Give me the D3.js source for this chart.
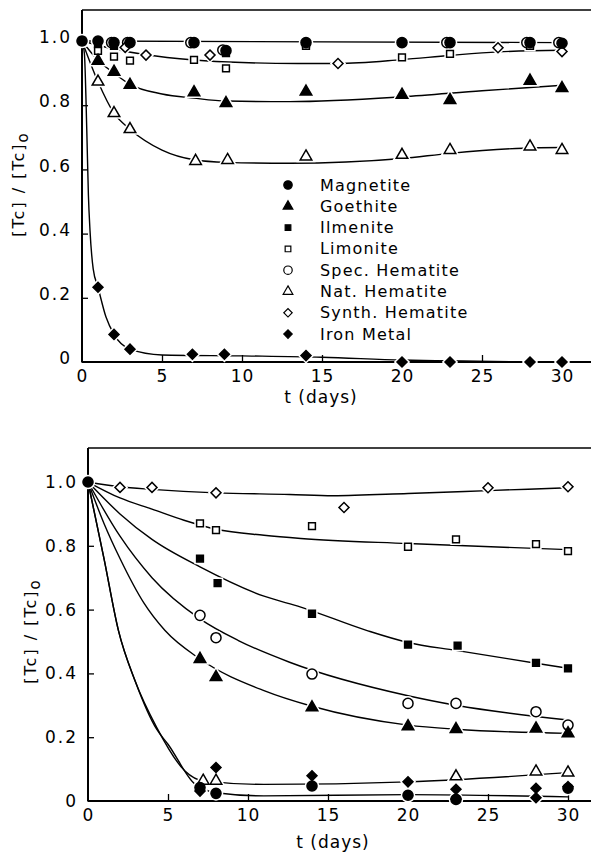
<!DOCTYPE html>
<html>
<head>
<meta charset="utf-8">
<script src="https://cdn.jsdelivr.net/npm/d3@7"></script>
<style>
  html, body { margin: 0; padding: 0; background: #fff; }
  svg { display: block; }
</style>
</head>
<body>
<svg id="chart" width="591" height="855"></svg>
<script>
// ---------- Data: [time (days), [Tc]/[Tc]o] ----------
// Upper panel measurements
const topMagnetite   = [[0,1.0],[1,1.0],[2,0.995],[3,0.995],[7,0.995],[9,0.97],[14,0.995],[20,0.995],[23,0.995],[28,0.995],[30,0.993]];
const topIlmenite    = [[0,1.0],[1,0.99],[2,0.985],[9,0.962],[14,0.99],[28,0.99]];
const topSpecHematite= [[1.85,0.995],[2.85,0.995],[6.8,0.995],[8.8,0.972],[22.8,0.995],[27.8,0.995],[29.8,0.995]];
const topLimonite    = [[1,0.969],[2,0.951],[3,0.939],[7,0.941],[9,0.915],[14,0.985],[20,0.949],[23,0.96],[28,0.985]];
const topSynthHematite = [[2.7,0.98],[4,0.956],[8,0.956],[16,0.93],[26,0.979],[30,0.967]];
const topGoethite    = [[1,0.938],[2,0.904],[3,0.863],[7,0.84],[9,0.806],[14,0.842],[20,0.832],[23,0.816],[28,0.876],[30,0.853]];
const topNatHematite = [[1,0.873],[2,0.775],[3,0.725],[7.1,0.626],[9.1,0.629],[14,0.64],[20,0.645],[23,0.66],[28,0.671],[30,0.66]];
const topIronMetal   = [[1,0.233],[2,0.086],[3,0.04],[6.9,0.024],[8.9,0.024],[14,0.02],[20,0.0],[23,0.0],[28,0.0],[30,0.0]];

// Upper panel fitted curves
const topFitMagnetite = [[0,1.0],[30,0.995]];
const topFitSynth     = [[0,1.0],[2,0.975],[4,0.957],[7,0.941],[10,0.933],[13.5,0.93],[16,0.93],[20,0.942],[23,0.955],[26,0.966],[30,0.971]];
const topFitGoethite  = [[0,1.0],[1,0.94],[2,0.9],[3,0.865],[5,0.835],[7,0.822],[9,0.813],[13,0.811],[20,0.826],[25,0.845],[30,0.862]];
const topFitNat       = [[0,1.0],[1,0.873],[2,0.775],[3,0.725],[5,0.66],[7,0.63],[9,0.622],[13,0.619],[20,0.634],[23,0.65],[27.6,0.666],[30,0.668]];
const topFitIron      = [[0,1.0],[0.15,0.96],[0.3,0.72],[0.4,0.52],[0.5,0.41],[0.7,0.29],[1,0.233],[1.5,0.14],[2,0.086],[3,0.04],[5,0.022],[10,0.019],[15,0.015],[20,0.006],[30,0.0]];

// Lower panel measurements
const botMagnetite   = [[0,1.0],[7,0.042],[8,0.024],[14,0.047],[20,0.018],[23,0.005],[30,0.04]];
const botIlmenite    = [[7,0.76],[8.1,0.683],[14,0.587],[20,0.49],[23.1,0.487],[28,0.433],[30,0.416]];
const botLimonite    = [[7,0.87],[8,0.849],[14,0.862],[20,0.797],[23,0.82],[28,0.805],[30,0.783]];
const botSpecHematite= [[7,0.582],[8,0.512],[14,0.398],[20,0.306],[23,0.306],[28,0.28],[30,0.238]];
const botSynthHematite = [[2,0.983],[4,0.983],[8,0.966],[16,0.92],[25,0.982],[30,0.985]];
const botGoethite    = [[7,0.445],[8,0.388],[14,0.293],[20,0.234],[23,0.225],[28,0.227],[30,0.212]];
const botNatHematite = [[7.2,0.063],[8,0.063],[23,0.077],[28,0.092],[30,0.089]];
const botIronMetal   = [[7,0.031],[8,0.105],[14,0.079],[20,0.06],[23,0.037],[23,0.006],[28,0.04],[28,0.01],[30,0.045]];

// Lower panel fitted curves
const botFitSynth     = [[0,1],[2,0.985],[4,0.977],[8,0.966],[12.6,0.961],[15.3,0.957],[20,0.964],[25,0.973],[30,0.982]];
const botFitLimonite  = [[0,1],[2,0.95],[4,0.915],[6,0.88],[8,0.852],[11,0.833],[13.3,0.823],[20,0.807],[30,0.788]];
const botFitIlmenite  = [[0,1],[2,0.9],[4,0.82],[7,0.734],[11,0.642],[13.3,0.608],[17.4,0.535],[20,0.497],[23,0.472],[28,0.432],[30,0.416]];
const botFitSpec      = [[0,1],[2,0.83],[4,0.70],[7,0.571],[9.4,0.503],[12.6,0.435],[20,0.33],[23,0.3],[30,0.254]];
const botFitGoethite  = [[0,1],[1,0.87],[2,0.76],[3.5,0.62],[4.8,0.535],[7,0.445],[11,0.346],[14,0.297],[20,0.238],[23,0.225],[30,0.212]];
const botFitNat       = [[0,1],[1,0.76],[1.9,0.535],[2.94,0.377],[4.29,0.231],[6.06,0.094],[7.2,0.063],[11,0.052],[20,0.06],[30,0.089]];
const botFitMagnetite = [[0,1],[1,0.76],[1.9,0.535],[2.94,0.377],[4.29,0.225],[5,0.178],[6.7,0.052],[8,0.026],[11,0.016],[20,0.02],[30,0.013]];

// Axis ticks and labels
const xTicks = [0, 5, 10, 15, 20, 25, 30];
const yTicks = [0, 0.2, 0.4, 0.6, 0.8, 1.0];
const xTitle = "t (days)";
const legendLabels = ["Magnetite","Goethite","Ilmenite","Limonite","Spec. Hematite","Nat. Hematite","Synth. Hematite","Iron Metal"];

// ---------- Drawing ----------
const FONT = "'DejaVu Sans', 'Liberation Sans', sans-serif";
const svg = d3.select("#chart");

const markerStyles = {
  Magnetite:        { shape: "circle",   filled: true  },
  Goethite:         { shape: "triangle", filled: true  },
  Ilmenite:         { shape: "square",   filled: true  },
  Limonite:         { shape: "square",   filled: false },
  "Spec. Hematite": { shape: "circle",   filled: false },
  "Nat. Hematite":  { shape: "triangle", filled: false },
  "Synth. Hematite":{ shape: "diamond",  filled: false },
  "Iron Metal":     { shape: "diamond",  filled: true  }
};

function symbolPath(shape, scale) {
  const k = scale || 1;
  if (shape === "circle")   return d3.symbol(d3.symbolCircle, 80 * k)();
  if (shape === "triangle") return d3.symbol(d3.symbolTriangle, 58 * k)();
  if (shape === "square")   return d3.symbol(d3.symbolSquare, 46 * k)();
  return d3.symbol(d3.symbolSquare, 50 * k)();
}
function symbolRotate(shape) { return shape === "diamond" ? " rotate(45)" : ""; }

function drawPanel(cfg) {
  const x = d3.scaleLinear().domain([0, 30]).range([cfg.x0, cfg.x0 + 480]);
  const y = d3.scaleLinear().domain([0, 1]).range([cfg.y0, cfg.y1]);
  const g = svg.append("g");

  // frame: left axis, bottom axis, top rule
  g.append("line").attr("x1", cfg.x0).attr("x2", cfg.x0).attr("y1", cfg.top).attr("y2", cfg.y0 + 0.5)
    .attr("stroke", "#000").attr("stroke-width", 2);
  g.append("line").attr("x1", cfg.x0).attr("x2", 591).attr("y1", cfg.y0).attr("y2", cfg.y0)
    .attr("stroke", "#000").attr("stroke-width", 2);
  g.append("line").attr("x1", cfg.x0).attr("x2", 591).attr("y1", cfg.top).attr("y2", cfg.top)
    .attr("stroke", "#000").attr("stroke-width", 1.6);

  // axes with inward ticks
  const xAxis = d3.axisBottom(x).tickValues(xTicks).tickSize(-7).tickPadding(8)
    .tickFormat(d3.format("d"));
  const gx = g.append("g").attr("transform", `translate(0,${cfg.y0})`).call(xAxis);
  gx.select(".domain").remove();
  gx.selectAll(".tick line").attr("stroke", "#000").attr("stroke-width", 1.3);
  gx.selectAll(".tick text").attr("font-family", FONT).attr("font-size", 17).attr("fill", "#000")
    .attr("letter-spacing", "1px").attr("dy", "0.71em");
  gx.selectAll(".tick").filter(d => d === 0).select("line").remove();

  const yAxis = d3.axisLeft(y).tickValues(yTicks).tickSize(-6).tickPadding(10)
    .tickFormat(d => d === 0 ? "0" : d3.format(".1f")(d));
  const gy = g.append("g").attr("transform", `translate(${cfg.x0},0)`).call(yAxis);
  gy.select(".domain").remove();
  gy.selectAll(".tick line").attr("stroke", "#000").attr("stroke-width", 1.3);
  gy.selectAll(".tick text").attr("font-family", FONT).attr("font-size", 17).attr("fill", "#000")
    .attr("letter-spacing", "2px").attr("dy", cfg.yLabelDy);
  gy.selectAll(".tick").filter(d => d === 0 || d === 1).select("line").remove();

  // fitted curves
  const line = d3.line().x(d => x(d[0])).y(d => y(d[1])).curve(d3.curveMonotoneX);
  cfg.fits.forEach(f => {
    g.append("path").attr("d", line(f)).attr("fill", "none")
      .attr("stroke", "#000").attr("stroke-width", 1.4);
  });

  // white halos so curves break around the symbols
  cfg.series.forEach(s => {
    const st = markerStyles[s.name];
    g.append("g").selectAll("path").data(s.data).join("path")
      .attr("d", symbolPath(st.shape))
      .attr("transform", d => `translate(${x(d[0])},${y(d[1])})` + symbolRotate(st.shape))
      .attr("fill", "#fff").attr("stroke", "#fff").attr("stroke-width", 4.5);
  });
  cfg.series.forEach(s => {
    const st = markerStyles[s.name];
    g.append("g").selectAll("path").data(s.data).join("path")
      .attr("d", symbolPath(st.shape))
      .attr("transform", d => `translate(${x(d[0])},${y(d[1])})` + symbolRotate(st.shape))
      .attr("fill", st.filled ? "#000" : "#fff")
      .attr("stroke", "#000").attr("stroke-width", 1.5);
  });

  // axis titles
  g.append("text").attr("x", cfg.xTitleX).attr("y", cfg.xTitleY)
    .attr("text-anchor", "middle").attr("dominant-baseline", "central")
    .attr("font-family", FONT).attr("font-size", 17).attr("letter-spacing", "1px")
    .text(xTitle);

  const yt = g.append("text")
    .attr("transform", `translate(${cfg.yTitleX},${cfg.yTitleY}) rotate(-90)`)
    .attr("text-anchor", "middle").attr("dominant-baseline", "central")
    .attr("font-family", FONT).attr("font-size", 16).attr("letter-spacing", "2px");
  yt.append("tspan").text("[Tc] / [Tc]");
  yt.append("tspan").attr("dy", 5).attr("font-size", 15).text("o");

  return { x, y, g };
}

drawPanel({
  x0: 82, y0: 362, y1: 41, top: 10, yLabelDy: "0.1em",
  xTitleX: 321, xTitleY: 397, yTitleX: 18, yTitleY: 184,
  fits: [topFitMagnetite, topFitSynth, topFitGoethite, topFitNat, topFitIron],
  series: [
    { name: "Spec. Hematite", data: topSpecHematite },
    { name: "Ilmenite",       data: topIlmenite },
    { name: "Limonite",       data: topLimonite },
    { name: "Synth. Hematite",data: topSynthHematite },
    { name: "Nat. Hematite",  data: topNatHematite },
    { name: "Goethite",       data: topGoethite },
    { name: "Iron Metal",     data: topIronMetal },
    { name: "Magnetite",      data: topMagnetite }
  ]
});

drawPanel({
  x0: 88, y0: 801, y1: 482, top: 448, yLabelDy: "0.32em",
  xTitleX: 333, xTitleY: 842, yTitleX: 30, yTitleY: 631,
  fits: [botFitSynth, botFitLimonite, botFitIlmenite, botFitSpec, botFitGoethite, botFitNat, botFitMagnetite],
  series: [
    { name: "Synth. Hematite",data: botSynthHematite },
    { name: "Limonite",       data: botLimonite },
    { name: "Ilmenite",       data: botIlmenite },
    { name: "Spec. Hematite", data: botSpecHematite },
    { name: "Goethite",       data: botGoethite },
    { name: "Nat. Hematite",  data: botNatHematite },
    { name: "Magnetite",      data: botMagnetite },
    { name: "Iron Metal",     data: botIronMetal }
  ]
});

// legend in the upper panel
const legend = svg.append("g").attr("transform", "translate(288,185)");
legendLabels.forEach((name, i) => {
  const st = markerStyles[name];
  const row = legend.append("g").attr("transform", `translate(0,${i * 21.3})`);
  row.append("path").attr("d", symbolPath(st.shape, 0.7))
    .attr("transform", symbolRotate(st.shape).trim() || null)
    .attr("fill", st.filled ? "#000" : "#fff").attr("stroke", "#000").attr("stroke-width", 1.2);
  row.append("text").attr("x", 32).attr("y", 0).attr("dominant-baseline", "central")
    .attr("font-family", FONT).attr("font-size", 16).attr("letter-spacing", "1.2px")
    .text(name);
});
</script>
</body>
</html>
